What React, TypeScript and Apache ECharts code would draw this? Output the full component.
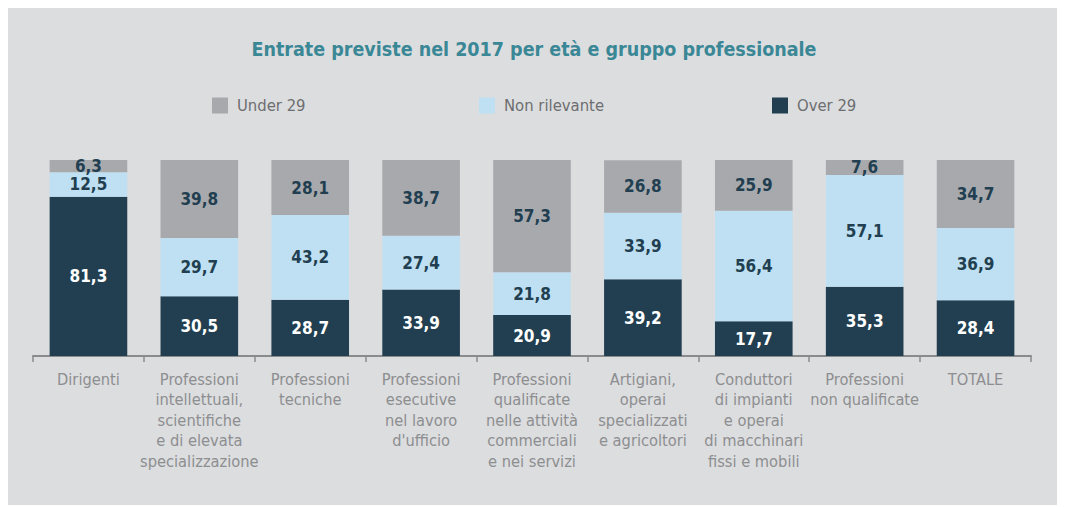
import React, { useEffect, useRef } from "react";
import * as echarts from "echarts";

const categories = [
  "Dirigenti",
  "Professioni\nintellettuali,\nscientifiche\ne di elevata\nspecializzazione",
  "Professioni\ntecniche",
  "Professioni\nesecutive\nnel lavoro\nd'ufficio",
  "Professioni\nqualificate\nnelle attività\ncommerciali\ne nei servizi",
  "Artigiani,\noperai\nspecializzati\ne agricoltori",
  "Conduttori\ndi impianti\ne operai\ndi macchinari\nfissi e mobili",
  "Professioni\nnon qualificate",
  "TOTALE",
];
const over29 = [81.3, 30.5, 28.7, 33.9, 20.9, 39.2, 17.7, 35.3, 28.4];
const nonRilevante = [12.5, 29.7, 43.2, 27.4, 21.8, 33.9, 56.4, 57.1, 36.9];
const under29 = [6.3, 39.8, 28.1, 38.7, 57.3, 26.8, 25.9, 7.6, 34.7];

const FONT = "'DejaVu Sans Condensed', 'DejaVu Sans', sans-serif";
const C_DARK = "#213f50";
const C_LIGHT = "#bfdff2";
const C_GRAY = "#a8a9ad";

const fmt = (p: any) => String(p.value).replace(".", ",");

export default function App() {
  const ref = useRef<HTMLDivElement>(null);
  useEffect(() => {
    if (!ref.current) return;
    const chart = echarts.init(ref.current, null, { renderer: "svg" });
    const legendBase = {
      top: 89,
      padding: 0,
      itemWidth: 16,
      itemHeight: 16,
      icon: "rect",
      selectedMode: false,
      textStyle: { fontFamily: FONT, fontSize: 16.5, color: "#6d6e70", padding: [0, 0, 0, 4] },
    };
    const labelBase = {
      show: true,
      position: "inside",
      fontFamily: FONT,
      fontSize: 17,
      fontWeight: "bold",
      formatter: fmt,
    };
    chart.setOption({
      animation: false,
      backgroundColor: "#dcdddf",
      title: {
        text: "Entrate previste nel 2017 per età e gruppo professionale",
        left: "center",
        top: 26,
        textStyle: { fontFamily: FONT, fontSize: 19.5, fontWeight: "bold", color: "#3a8796" },
      },
      legend: [
        { ...legendBase, left: 204, data: ["Under 29"] },
        { ...legendBase, left: 471, data: ["Non rilevante"] },
        { ...legendBase, left: 764, data: ["Over 29"] },
      ],
      grid: { left: 25, right: 29, top: 152, bottom: 149 },
      xAxis: {
        type: "category",
        data: categories,
        axisLine: { lineStyle: { color: "#8a8b8d", width: 2 } },
        axisTick: { show: true, length: 6, lineStyle: { color: "#8a8b8d", width: 1.5 } },
        axisLabel: {
          interval: 0,
          fontFamily: FONT,
          fontSize: 16.3,
          lineHeight: 20.5,
          color: "#8d8e90",
          margin: 13,
        },
      },
      yAxis: { type: "value", min: 0, max: 100, show: false, splitLine: { show: false } },
      series: [
        {
          name: "Over 29",
          type: "bar",
          stack: "s",
          barWidth: "70%",
          data: over29,
          itemStyle: { color: C_DARK },
          label: { ...labelBase, color: "#ffffff" },
        },
        {
          name: "Non rilevante",
          type: "bar",
          stack: "s",
          data: nonRilevante,
          itemStyle: { color: C_LIGHT },
          label: { ...labelBase, color: C_DARK },
        },
        {
          name: "Under 29",
          type: "bar",
          stack: "s",
          data: under29,
          itemStyle: { color: C_GRAY },
          label: { ...labelBase, color: C_DARK },
        },
      ],
    });
    return () => chart.dispose();
  }, []);
  return <div ref={ref} style={{ width: 1052, height: 497 }} />;
}
